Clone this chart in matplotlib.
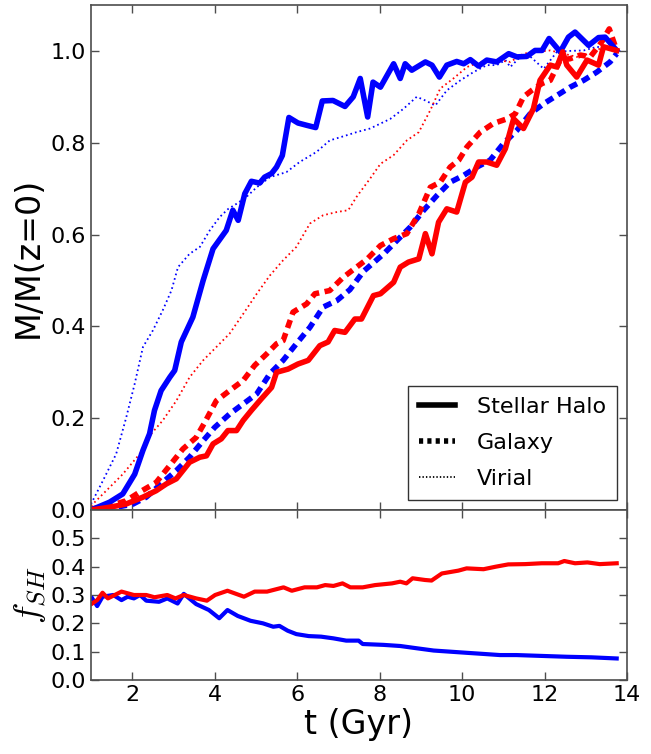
import matplotlib
matplotlib.use("Agg")
import matplotlib.pyplot as plt

plt.rcParams['font.family'] = ['DejaVu Sans']
plt.rcParams['mathtext.fontset'] = 'cm'
plt.rcParams['lines.scale_dashes'] = False

# ---------------- data ----------------
# Blue galaxy: stellar halo mass fraction
t_b_sh = [1.0, 1.45, 1.77, 2.06, 2.26, 2.42, 2.54, 2.70, 2.91, 3.03, 3.19, 3.47, 3.72, 3.96, 4.28,
          4.44, 4.57, 4.73, 4.89, 5.09, 5.21, 5.38, 5.50, 5.64, 5.80, 6.02, 6.23, 6.45, 6.61, 6.87,
          7.16, 7.36, 7.53, 7.71, 7.84, 8.02, 8.34, 8.50, 8.62, 8.78, 9.11, 9.27, 9.45, 9.63, 9.87,
          10.04, 10.20, 10.40, 10.60, 10.84, 11.13, 11.33, 11.57, 11.77, 11.94, 12.11, 12.38, 12.58,
          12.74, 13.07, 13.31, 13.47, 13.75]
m_b_sh = [0.0, 0.017, 0.035, 0.078, 0.13, 0.166, 0.217, 0.26, 0.289, 0.304, 0.366, 0.42, 0.50, 0.569, 0.609,
          0.653, 0.631, 0.689, 0.716, 0.712, 0.725, 0.733, 0.747, 0.772, 0.855, 0.843, 0.838, 0.833, 0.891, 0.892,
          0.879, 0.90, 0.94, 0.856, 0.932, 0.921, 0.972, 0.94, 0.972, 0.958, 0.976, 0.969, 0.943, 0.969, 0.977,
          0.972, 0.981, 0.967, 0.98, 0.976, 0.994, 0.987, 0.988, 1.001, 1.001, 1.027, 0.998, 1.03,
          1.041, 1.012, 1.029, 1.03, 1.001]

# Blue galaxy: galaxy mass fraction
t_b_gal = [1.0, 1.61, 2.02, 2.34, 2.70, 3.07, 3.39, 3.72, 4.0, 4.36, 4.69, 5.02, 5.34, 5.66, 5.98,
           6.31, 6.63, 6.96, 7.28, 7.61, 8.10, 8.42, 8.74, 9.07, 9.39, 9.71, 10.04, 10.36, 10.68,
           11.0, 11.33, 11.65, 11.98, 12.30, 12.62, 12.95, 13.27, 13.59, 13.75]
m_b_gal = [0.0, 0.006, 0.013, 0.028, 0.057, 0.086, 0.115, 0.151, 0.18, 0.209, 0.231, 0.253, 0.297, 0.326, 0.362,
           0.398, 0.442, 0.456, 0.48, 0.52, 0.558, 0.587, 0.616, 0.653, 0.685, 0.714, 0.729, 0.747, 0.762,
           0.798, 0.827, 0.863, 0.885, 0.903, 0.921, 0.936, 0.954, 0.976, 0.994]

# Blue galaxy: virial mass fraction
t_b_vir = [1.0, 1.29, 1.61, 1.85, 2.06, 2.26, 2.50, 2.74, 2.95, 3.11, 3.39, 3.64, 3.88, 4.12, 4.33,
           4.53, 4.77, 5.02, 5.34, 5.74, 6.06, 6.47, 6.79, 7.12, 7.44, 7.77, 8.26, 8.58, 8.90, 9.11,
           9.35, 9.63, 9.96, 10.28, 10.60, 10.84, 11.05, 11.17, 11.41, 11.65, 11.98, 12.30, 12.62,
           12.95, 13.27, 13.75]
m_b_vir = [0.013, 0.064, 0.122, 0.20, 0.275, 0.355, 0.391, 0.435, 0.478, 0.529, 0.558, 0.573, 0.609, 0.638, 0.656,
           0.667, 0.682, 0.703, 0.725, 0.736, 0.758, 0.78, 0.805, 0.814, 0.823, 0.831, 0.852, 0.874, 0.90, 0.892,
           0.881, 0.914, 0.936, 0.954, 0.969, 0.969, 0.98, 0.965, 0.987, 0.988, 0.961, 0.998, 1.0,
           1.001, 1.009, 1.001]

# Red galaxy: stellar halo mass fraction
t_r_sh = [1.0, 1.45, 1.85, 2.26, 2.58, 2.83, 3.07, 3.39, 3.64, 3.80, 3.96, 4.16, 4.32, 4.53, 4.69,
          4.89, 5.13, 5.38, 5.50, 5.78, 6.02, 6.27, 6.55, 6.75, 6.91, 7.16, 7.40, 7.56, 7.85, 8.02,
          8.34, 8.50, 8.70, 8.95, 9.11, 9.27, 9.43, 9.63, 9.87, 10.08, 10.24, 10.40, 10.60, 10.84,
          11.05, 11.25, 11.49, 11.73, 11.89, 12.14, 12.30, 12.44, 12.54, 12.78, 13.03, 13.31, 13.43, 13.75]
m_r_sh = [0.0, 0.006, 0.013, 0.028, 0.042, 0.057, 0.068, 0.104, 0.115, 0.118, 0.144, 0.155, 0.173, 0.173, 0.195,
          0.217, 0.242, 0.267, 0.30, 0.307, 0.318, 0.326, 0.358, 0.366, 0.391, 0.387, 0.416, 0.416, 0.467, 0.471,
          0.496, 0.529, 0.54, 0.547, 0.602, 0.558, 0.627, 0.656, 0.649, 0.714, 0.725, 0.758, 0.758, 0.751,
          0.787, 0.852, 0.831, 0.874, 0.936, 0.969, 0.965, 0.998, 0.969, 0.943, 0.98, 0.969, 1.009, 1.001]

# Red galaxy: galaxy mass fraction
t_r_gal = [1.0, 1.45, 1.85, 2.18, 2.58, 2.91, 3.23, 3.55, 3.76, 4.04, 4.36, 4.69, 4.97, 5.26, 5.50,
           5.66, 5.90, 6.23, 6.43, 6.79, 7.12, 7.44, 7.69, 8.02, 8.34, 8.66, 8.95, 9.23, 9.47, 9.71,
           9.92, 10.12, 10.44, 10.76, 11.09, 11.29, 11.49, 11.69, 11.94, 12.14, 12.38, 12.62, 12.87,
           13.11, 13.39, 13.57, 13.75]
m_r_gal = [0.002, 0.009, 0.02, 0.039, 0.06, 0.097, 0.133, 0.158, 0.191, 0.238, 0.26, 0.282, 0.315, 0.34, 0.362,
           0.369, 0.431, 0.449, 0.471, 0.478, 0.507, 0.529, 0.546, 0.576, 0.591, 0.602, 0.645, 0.703, 0.714, 0.747,
           0.762, 0.791, 0.823, 0.842, 0.852, 0.863, 0.90, 0.914, 0.929, 0.936, 0.98, 0.983, 0.991,
           0.987, 1.02, 1.048, 1.001]

# Red galaxy: virial mass fraction
t_r_vir = [1.0, 1.37, 1.77, 2.18, 2.46, 2.74, 3.07, 3.39, 3.72, 4.04, 4.36, 4.69, 5.02, 5.34, 5.66,
           5.98, 6.31, 6.63, 6.96, 7.24, 7.44, 7.77, 8.02, 8.34, 8.66, 8.95, 9.23, 9.47, 9.79, 10.12,
           10.44, 10.84, 11.17, 11.49, 11.81, 12.14, 12.46, 12.78, 13.11, 13.43, 13.75]
m_r_vir = [0.009, 0.042, 0.078, 0.122, 0.166, 0.195, 0.238, 0.289, 0.326, 0.355, 0.384, 0.427, 0.471, 0.511, 0.544,
           0.573, 0.624, 0.642, 0.649, 0.653, 0.682, 0.722, 0.754, 0.773, 0.805, 0.823, 0.871, 0.918, 0.94, 0.965,
           0.976, 0.98, 0.976, 0.994, 0.998, 1.001, 0.994, 0.987, 0.994, 1.009, 1.001]

# Stellar-halo fraction f_SH
t_r_f = [1.03, 1.15, 1.28, 1.41, 1.74, 2.04, 2.34, 2.54, 2.85, 3.05, 3.25, 3.55, 3.81, 4.01, 4.31,
         4.71, 4.97, 5.27, 5.67, 5.87, 6.18, 6.48, 6.68, 6.88, 7.10, 7.29, 7.59, 7.89, 8.30, 8.50,
         8.65, 8.80, 9.10, 9.26, 9.51, 9.91, 10.11, 10.52, 10.82, 11.12, 11.53, 11.93, 12.33, 12.48,
         12.74, 13.04, 13.34, 13.75]
f_r = [0.27, 0.282, 0.308, 0.288, 0.312, 0.30, 0.30, 0.292, 0.30, 0.288, 0.30, 0.288, 0.28, 0.30, 0.315,
       0.294, 0.312, 0.312, 0.327, 0.315, 0.327, 0.327, 0.335, 0.332, 0.341, 0.327, 0.327, 0.335, 0.341, 0.347,
       0.341, 0.359, 0.353, 0.351, 0.376, 0.386, 0.394, 0.391, 0.40, 0.408, 0.409, 0.412, 0.412, 0.42,
       0.412, 0.415, 0.409, 0.412]

t_b_f = [1.03, 1.15, 1.28, 1.54, 1.74, 1.89, 2.04, 2.19, 2.34, 2.65, 2.85, 3.10, 3.25, 3.55, 3.86,
         4.11, 4.31, 4.56, 4.87, 5.17, 5.42, 5.57, 5.77, 5.98, 6.28, 6.58, 6.88, 7.19, 7.49, 7.59,
         8.09, 8.50, 8.90, 9.31, 9.71, 10.11, 10.52, 10.92, 11.32, 11.93, 12.54, 13.14, 13.75]
f_b = [0.288, 0.261, 0.294, 0.30, 0.282, 0.294, 0.288, 0.30, 0.28, 0.276, 0.288, 0.27, 0.304, 0.268, 0.247,
       0.218, 0.247, 0.226, 0.209, 0.20, 0.188, 0.191, 0.174, 0.162, 0.155, 0.153, 0.147, 0.139, 0.139, 0.127,
       0.124, 0.12, 0.112, 0.104, 0.10, 0.096, 0.092, 0.088, 0.088, 0.085, 0.082, 0.08, 0.076]

legend_labels = ["Stellar Halo", "Galaxy", "Virial"]
top_yticks = [0.0, 0.2, 0.4, 0.6, 0.8, 1.0]
bot_yticks = [0.0, 0.1, 0.2, 0.3, 0.4, 0.5]
xticks = [2, 4, 6, 8, 10, 12, 14]

# ---------------- figure ----------------
W, H = 651, 754
fig = plt.figure(figsize=(W / 100, H / 100), dpi=100)
left = 91 / W
right = 627 / W
ax1 = fig.add_axes([left, 1 - 510 / H, right - left, (510 - 5) / H])
ax2 = fig.add_axes([left, 1 - 680 / H, right - left, (680 - 510) / H])

lw_solid = 4
lw_dash = 4
lw_dot = 1.3
dash = (6, 4)
dot = (1.2, 2.2)

ax1.plot(t_b_vir, m_b_vir, color='blue', lw=lw_dot, dashes=dot)
ax1.plot(t_r_vir, m_r_vir, color='red', lw=lw_dot, dashes=dot)
ax1.plot(t_b_gal, m_b_gal, color='blue', lw=lw_dash, dashes=dash)
ax1.plot(t_r_gal, m_r_gal, color='red', lw=lw_dash, dashes=dash)
ax1.plot(t_b_sh, m_b_sh, color='blue', lw=lw_solid)
ax1.plot(t_r_sh, m_r_sh, color='red', lw=lw_solid)

# legend proxies (black)
h1, = ax1.plot([], [], color='black', lw=lw_solid)
h2, = ax1.plot([], [], color='black', lw=lw_dash, dashes=(3, 3))
h3, = ax1.plot([], [], color='black', lw=lw_dot, dashes=(1, 1.5))
leg = ax1.legend([h1, h2, h3], legend_labels, loc='lower right', fontsize=16,
                 frameon=True, fancybox=False, handlelength=1.6, handletextpad=1.0,
                 borderaxespad=0.45, labelspacing=0.72, borderpad=0.5)
leg.get_frame().set_edgecolor('black')
leg.get_frame().set_linewidth(1.0)

ax2.plot(t_b_f, f_b, color='blue', lw=3)
ax2.plot(t_r_f, f_r, color='red', lw=3)

for ax in (ax1, ax2):
    ax.set_xlim(1, 14)
    ax.set_xticks(xticks)
    ax.tick_params(direction='in', top=True, right=True, length=6, width=1,
                   labelsize=16, color='0.3')
    for s in ax.spines.values():
        s.set_color('0.3')
        s.set_linewidth(1.2)

ax1.set_ylim(0, 1.1)
ax1.set_yticks(top_yticks)
ax1.set_yticklabels(["%.1f" % v for v in top_yticks])
ax1.tick_params(labelbottom=False)
ax1.set_ylabel("M/M(z=0)", fontsize=24, labelpad=4)

ax2.set_ylim(0, 0.6)
ax2.set_yticks(bot_yticks)
ax2.set_yticklabels(["%.1f" % v for v in bot_yticks])
ax2.set_xticklabels([str(v) for v in xticks])
ax2.set_ylabel(r"$f_{SH}$", fontsize=26, labelpad=2)
ax2.set_xlabel("t (Gyr)", fontsize=24, labelpad=2)

fig.savefig("out.png", dpi=100)
